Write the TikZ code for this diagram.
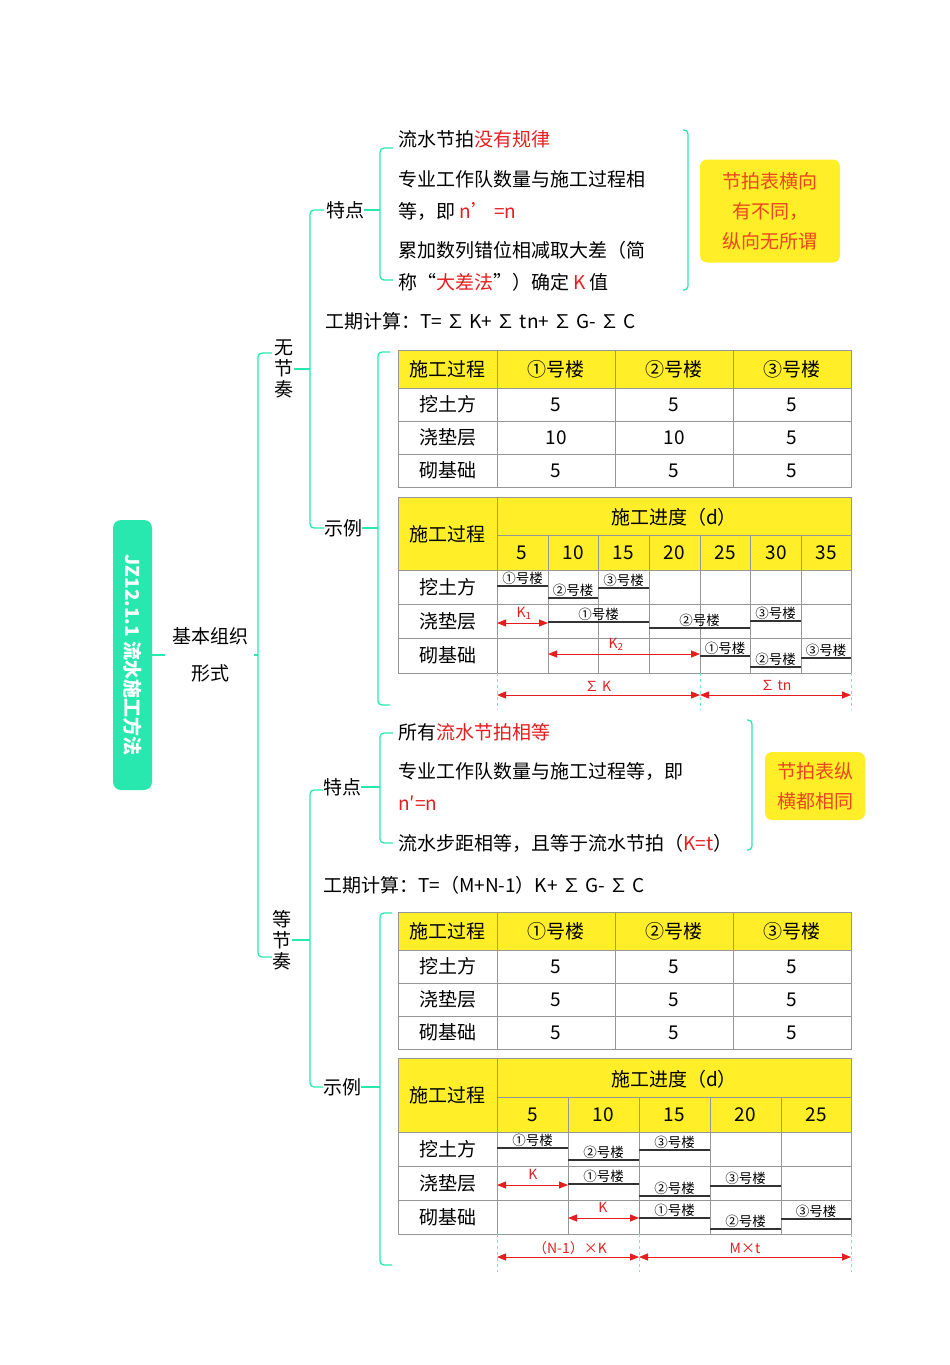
\documentclass[tikz,border=0pt]{standalone}
\usepackage{fontspec}
\setmainfont{Noto Sans CJK SC}
\usetikzlibrary{arrows.meta}
\definecolor{gr}{RGB}{40,232,176}
\definecolor{yl}{RGB}{255,238,40}
\definecolor{rd}{RGB}{228,30,30}
\definecolor{org}{RGB}{236,70,30}
\definecolor{gl}{RGB}{150,150,150}
\tikzset{
 br/.style={gr,line width=1.3pt,rounded corners=4pt},
 tx/.style={anchor=west,inner sep=0,font=\fontsize{19}{24}\selectfont},
 cell/.style={inner sep=0,font=\fontsize{19}{24}\selectfont},
 bl/.style={inner sep=1pt,anchor=south,font=\fontsize{13.5}{15}\selectfont},
 bar/.style={line width=1.4pt,black!80},
 rar/.style={rd,line width=1pt,{Triangle[length=9pt,width=7pt]}-{Triangle[length=9pt,width=7pt]}},
 rl/.style={inner sep=0,text=rd,font=\fontsize{14}{16}\selectfont},
 dsh/.style={gr!70,dashed,line width=0.6pt},
 note/.style={fill=yl,rounded corners=7pt,text=org,align=center,font=\fontsize{19}{30}\selectfont,inner sep=0}
}
\newcommand{\gtable}[2]{% y top
 \begin{scope}[shift={(0,#1)}]
 \fill[yl] (398,0) rectangle (851,38);
 \draw[gl,line width=0.8pt] (398,0) rectangle (851,137);
 \foreach \y in {38,71,104} \draw[gl,line width=0.8pt] (398,\y) -- (851,\y);
 \foreach \x in {497,615,733} \draw[gl,line width=0.8pt] (\x,0) -- (\x,137);
 \node[cell] at (447.5,19) {施工过程};
 \node[cell] at (556,19) {①号楼};
 \node[cell] at (674,19) {②号楼};
 \node[cell] at (792,19) {③号楼};
 \node[cell] at (447.5,54.5) {挖土方};
 \node[cell] at (447.5,87.5) {浇垫层};
 \node[cell] at (447.5,120.5) {砌基础};
 #2
 \end{scope}}
\begin{document}
\begin{tikzpicture}[x=1pt,y=-1pt]
\useasboundingbox (0,0) rectangle (950,1365);
% root
\node[fill=gr,rounded corners=8pt,minimum width=39pt,minimum height=270pt,inner sep=0] (root) at (132.5,655) {};
\node[rotate=-90,text=white,font=\bfseries\fontsize{19}{22}\selectfont] at (132.5,655) {JZ12.1.1 流水施工方法};
\node[align=center,font=\fontsize{19}{37}\selectfont,inner sep=0] (jb) at (210,655) {基本组织\\形式};
\draw[br] (root.east) -- (165,655);
\draw[br] (254,655) -- (258,655);
\node[align=center,font=\fontsize{19}{21}\selectfont,inner sep=0] (wjz) at (284,369) {无\\节\\奏};
\node[align=center,font=\fontsize{19}{21}\selectfont,inner sep=0] (djz) at (282,940) {等\\节\\奏};
\draw[br] (272,353) -- (258,353) -- (258,957) -- (272,957);
\draw[br] (wjz.east) -- (310,369);
\draw[br] (djz.east) -- (310,940);
% ---- section 1
\node[tx] (td1) at (326,210) {特点};
\node[tx] (ex1) at (324,528) {示例};
\draw[br] (324,210) -- (310,210) -- (310,528) -- (324,528);
\node[tx] at (325,321) {工期计算：T= ∑ K+ ∑ tn+ ∑ G- ∑ C};
\draw[br] (td1.east) -- (380,210);
\draw[br] (393,148) -- (380,148) -- (380,280) -- (393,280);
\node[tx] at (398,139) {流水节拍\textcolor{rd}{没有规律}};
\node[tx] at (398,179) {专业工作队数量与施工过程相};
\node[tx] at (398,211) {等，即 \textcolor{rd}{n’ =n}};
\node[tx] at (398,250) {累加数列错位相减取大差（简};
\node[tx] at (398,282) {称“\textcolor{rd}{大差法}”）确定 \textcolor{rd}{K} 值};
\draw[gr,line width=1.3pt,rounded corners=4pt] (683,130) -- (688,130) -- (688,290) -- (683,290);
\node[note,minimum width=140pt,minimum height=103pt] at (770,211) {节拍表横向\\有不同，\\纵向无所谓};
\draw[br] (ex1.east) -- (378,528);
\draw[br] (390,352) -- (378,352) -- (378,705) -- (390,705);
\gtable{350}{
 \foreach \r/\a/\b/\c in {1/5/5/5,2/10/10/5,3/5/5/5}{
  \node[cell] at (556,21.5+33*\r) {\a};
  \node[cell] at (674,21.5+33*\r) {\b};
  \node[cell] at (792,21.5+33*\r) {\c};}
}
% gantt 1
\begin{scope}[shift={(0,497)}]
\fill[yl] (398,0) rectangle (851,73);
\draw[gl,line width=0.8pt] (398,0) rectangle (851,176);
\draw[gl,line width=0.8pt] (497,0) -- (497,176);
\draw[gl,line width=0.8pt] (497,38) -- (851,38);
\foreach \y in {73,107,141} \draw[gl,line width=0.8pt] (398,\y) -- (851,\y);
\foreach \x in {548,598,649,700,750,801} \draw[gl,line width=0.8pt] (\x,38) -- (\x,176);
\node[cell] at (447.5,37) {施工过程};
\node[cell] at (674,20) {施工进度（d）};
\foreach \x/\t in {522/5,573/10,623/15,674/20,725/25,776/30,826/35} \node[cell] at (\x,56) {\t};
\node[cell] at (447.5,90) {挖土方};
\node[cell] at (447.5,124) {浇垫层};
\node[cell] at (447.5,158) {砌基础};
\end{scope}
\foreach \xa/\xb/\y/\t in {497/548/586/①,548/598/598/②,598/649/588/③,548/649/622/①,649/750/628/②,750/801/621/③,700/750/656/①,750/801/667/②,801/851/658/③}
 {\draw[bar] (\xa,\y) -- (\xb,\y); \node[bl] at ({(\xa+\xb)/2},\y) {\t 号楼};}
\draw[rar] (497,623) -- (548,623); \node[rl] at (524,613) {K\textsubscript{1}};
\draw[rar] (548,654) -- (700,654); \node[rl] at (616,644) {K\textsubscript{2}};
\foreach \x in {497,700,851} \draw[dsh] (\x,673) -- (\x,710);
\draw[rar] (497,695) -- (700,695); \node[rl] at (598,686) {∑ K};
\draw[rar] (700,695) -- (851,695); \node[rl] at (776,686) {∑ tn};
% ---- section 2
\node[tx] (td2) at (323,787) {特点};
\node[tx] (ex2) at (323,1087) {示例};
\draw[br] (323,790) -- (310,790) -- (310,1087) -- (323,1087);
\node[tx] at (323,885) {工期计算：T=（M+N-1）K+ ∑ G- ∑ C};
\draw[br] (td2.east) -- (380,787);
\draw[br] (393,733) -- (380,733) -- (380,843) -- (393,843);
\node[tx] at (398,732) {所有\textcolor{rd}{流水节拍相等}};
\node[tx] at (398,771) {专业工作队数量与施工过程等，即};
\node[tx] at (398,803) {\textcolor{rd}{n′=n}};
\node[tx] at (398,843) {流水步距相等，且等于流水节拍（\textcolor{rd}{K=t}）};
\draw[gr,line width=1.3pt,rounded corners=4pt] (747,720) -- (752,720) -- (752,850) -- (747,850);
\node[note,minimum width=100pt,minimum height=68pt] at (815,786) {节拍表纵\\横都相同};
\draw[br] (ex2.east) -- (380,1087);
\draw[br] (392,913) -- (380,913) -- (380,1265) -- (392,1265);
\gtable{912}{
 \foreach \r in {1,2,3}{
  \node[cell] at (556,21.5+33*\r) {5};
  \node[cell] at (674,21.5+33*\r) {5};
  \node[cell] at (792,21.5+33*\r) {5};}
}
% gantt 2
\begin{scope}[shift={(0,1058)}]
\fill[yl] (398,0) rectangle (851,74);
\draw[gl,line width=0.8pt] (398,0) rectangle (851,176);
\draw[gl,line width=0.8pt] (497,0) -- (497,176);
\draw[gl,line width=0.8pt] (497,39) -- (851,39);
\foreach \y in {74,108,142} \draw[gl,line width=0.8pt] (398,\y) -- (851,\y);
\foreach \x in {568,639,710,781} \draw[gl,line width=0.8pt] (\x,39) -- (\x,176);
\node[cell] at (447.5,37) {施工过程};
\node[cell] at (674,21) {施工进度（d）};
\foreach \x/\t in {532.5/5,603.5/10,674.5/15,745.5/20,816/25} \node[cell] at (\x,57) {\t};
\node[cell] at (447.5,91) {挖土方};
\node[cell] at (447.5,125) {浇垫层};
\node[cell] at (447.5,159) {砌基础};
\end{scope}
\foreach \xa/\xb/\y/\t in {497/568/1148/①,568/639/1160/②,639/710/1150/③,568/639/1184/①,639/710/1196/②,710/781/1186/③,639/710/1218/①,710/781/1229/②,781/851/1219/③}
 {\draw[bar] (\xa,\y) -- (\xb,\y); \node[bl] at ({(\xa+\xb)/2},\y) {\t 号楼};}
\draw[rar] (497,1185) -- (568,1185); \node[rl] at (533,1174) {K};
\draw[rar] (568,1218) -- (639,1218); \node[rl] at (603,1207) {K};
\foreach \x in {497,639,851} \draw[dsh] (\x,1234) -- (\x,1272);
\draw[rar] (497,1257) -- (639,1257); \node[rl] at (570,1248) {（N-1）×K};
\draw[rar] (639,1257) -- (851,1257); \node[rl] at (745,1248) {M×t};
\end{tikzpicture}
\end{document}
